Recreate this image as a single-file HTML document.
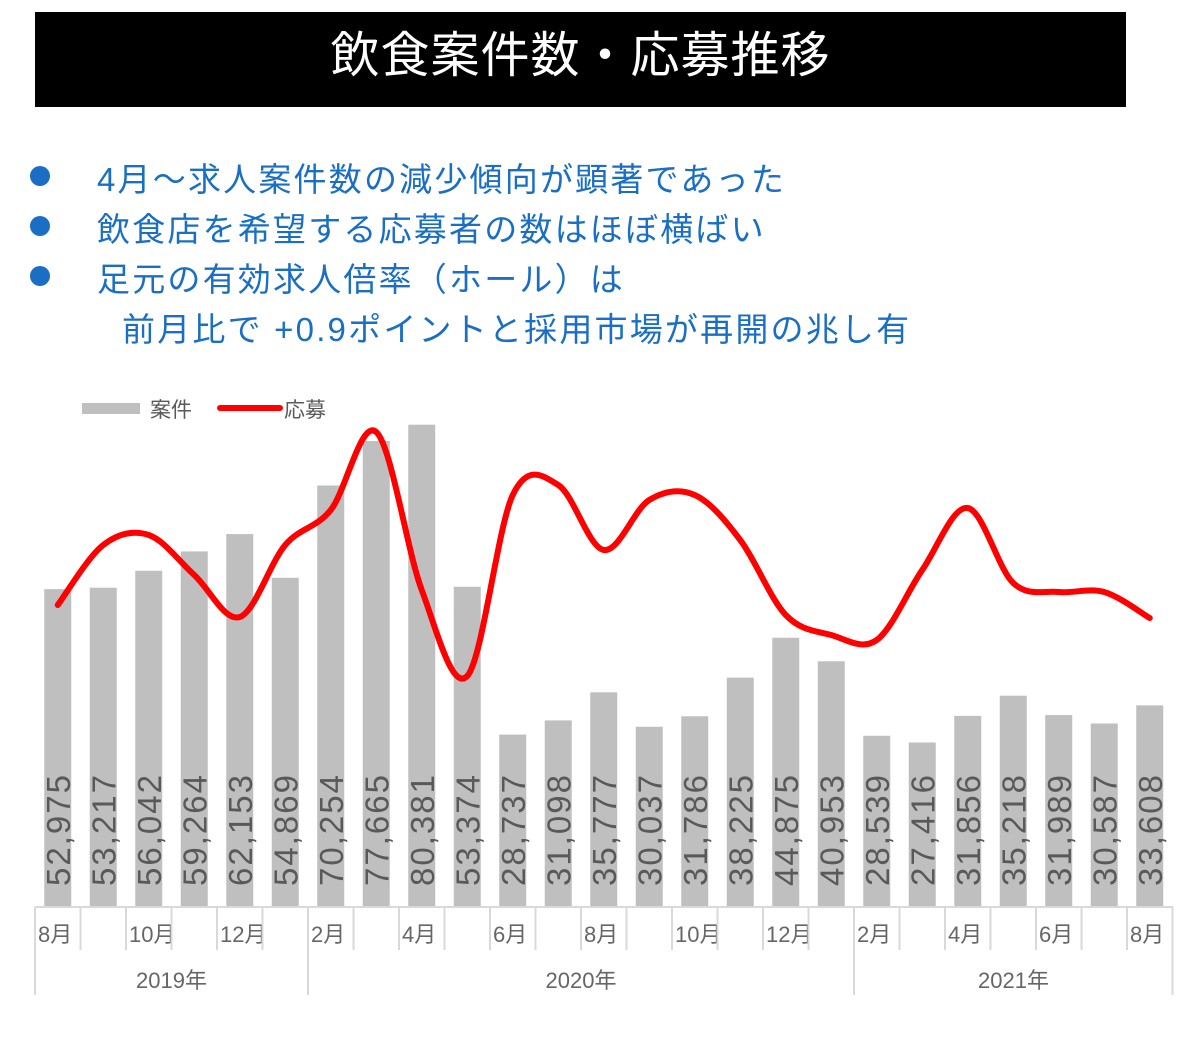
<!DOCTYPE html>
<html><head><meta charset="utf-8">
<style>
html,body{margin:0;padding:0;background:#fff;width:1200px;height:1045px;overflow:hidden}
.t{position:absolute;left:35px;top:12px;width:1091px;height:95px;background:#000;color:#fff;font:49px "Liberation Sans","Noto Sans CJK JP",sans-serif;text-align:center;line-height:88px;letter-spacing:1px}
.b{position:absolute;left:0;font:33px "Liberation Sans","Noto Sans CJK JP",sans-serif;color:#1a6fc4;white-space:nowrap;letter-spacing:2.2px}
.d{position:absolute;left:30px;width:20px;height:20px;border-radius:50%;background:#1a6fc4}
</style></head><body>
<div class="t">飲食案件数・応募推移</div>
<div class="d" style="top:166px"></div><div class="b" style="left:97px;top:153px">4月～求人案件数の減少傾向が顕著であった</div>
<div class="d" style="top:216px"></div><div class="b" style="left:97px;top:203px">飲食店を希望する応募者の数はほぼ横ばい</div>
<div class="d" style="top:266px"></div><div class="b" style="left:97px;top:253px">足元の有効求人倍率（ホール）は</div>
<div class="b" style="left:122px;top:303px">前月比で +0.9ポイントと採用市場が再開の兆し有</div>
<svg id="s" width="1200" height="1045" style="position:absolute;left:0;top:0" xmlns="http://www.w3.org/2000/svg"></svg>
<script>
var v=[52975,53217,56042,59264,62153,54869,70254,77665,80381,53374,28737,31098,35777,30037,31786,38225,44875,40953,28539,27416,31856,35218,31989,30587,33608];
var ly=[605,545,535,575,617,545,510,432,590,676,495,485,550,500,495,540,615,635,640,570,508,583,592,592,618];
var m=["8月","","10月","","12月","","2月","","4月","","6月","","8月","","10月","","12月","","2月","","4月","","6月","","8月"];
var st=45.5,x0=35,h='';
var F='font-family="Liberation Sans,Noto Sans CJK JP,sans-serif"';
h+='<rect x="82" y="403" width="58" height="11" fill="#bfbfbf"/><text x="150" y="417" font-size="21" fill="#595959" '+F+'>案件</text>';
h+='<line x1="220" y1="408" x2="280" y2="408" stroke="#f00" stroke-width="6" stroke-linecap="round"/><text x="284" y="417" font-size="21" fill="#595959" '+F+'>応募</text>';
for(var i=0;i<25;i++){var cx=x0+st*(i+0.5),t=907-v[i]*0.006;
h+='<rect x="'+(cx-13.5)+'" y="'+t+'" width="27" height="'+(907-t)+'" fill="#bfbfbf"/>';
var s=v[i].toLocaleString('en-US');
h+='<text transform="translate('+(cx+12)+',886) rotate(-90)" font-size="33" letter-spacing="2" fill="#595959" '+F+'>'+s+'</text>';
h+='<text x="'+(x0+st*i+3)+'" y="942" font-size="22" fill="#666" '+F+'>'+m[i]+'</text>';}
for(var k=0;k<=25;k++){var x=x0+st*k,long=(k==0||k==6||k==18||k==25);
h+='<line x1="'+x+'" y1="907" x2="'+x+'" y2="'+(long?995:950)+'" stroke="#d9d9d9" stroke-width="2"/>';}
h+='<line x1="35" y1="907" x2="1173" y2="907" stroke="#d9d9d9" stroke-width="2"/>';
[[35,308,"2019年"],[308,854,"2020年"],[854,1173,"2021年"]].forEach(function(a){h+='<text x="'+((a[0]+a[1])/2)+'" y="988" text-anchor="middle" font-size="22" fill="#666" '+F+'>'+a[2]+'</text>';});
var P=ly.map(function(y,i){return [x0+st*(i+0.5),y]});
var d='M'+P[0][0]+','+P[0][1];
for(var i=0;i<P.length-1;i++){var p0=P[i>0?i-1:i],p1=P[i],p2=P[i+1],p3=P[i+2<P.length?i+2:i+1];
d+=' C'+(p1[0]+(p2[0]-p0[0])/6)+','+(p1[1]+(p2[1]-p0[1])/6)+' '+(p2[0]-(p3[0]-p1[0])/6)+','+(p2[1]-(p3[1]-p1[1])/6)+' '+p2[0]+','+p2[1];}
h+='<path d="'+d+'" fill="none" stroke="#f00" stroke-width="6" stroke-linecap="round" stroke-linejoin="round"/>';
document.getElementById('s').innerHTML=h;
</script>
</body></html>
